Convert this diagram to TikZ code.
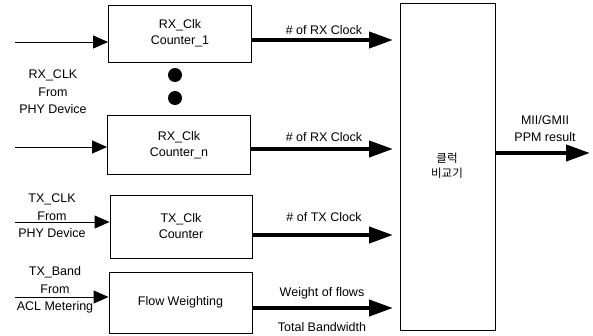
\documentclass[tikz,border=0pt]{standalone}
\usepackage{fontspec}
\setmainfont{Liberation Sans}
\newfontfamily\kr{Noto Sans CJK KR}
\usetikzlibrary{arrows.meta}
\begin{document}
\begin{tikzpicture}[x=1pt,y=-1pt,
  box/.style={draw,line width=0.9pt,inner sep=0pt,align=center,font=\fontsize{12.5}{16}\selectfont},
  lbl/.style={inner sep=0pt,align=center,font=\fontsize{12.5}{17.5}\selectfont},
  inarrow/.style={line width=0.9pt,-{Triangle[length=15pt,width=13pt]}},
  outarrow/.style={line width=4pt,-{Triangle[length=24pt,width=16pt]}}]
\useasboundingbox (0,0) rectangle (593,335);
% boxes
\node[box,minimum width=143pt,minimum height=57pt] (c1) at (180,33.5) {RX\_Clk\\Counter\_1};
\node[box,minimum width=143pt,minimum height=59pt] (cn) at (179,145) {RX\_Clk\\Counter\_n};
\node[box,minimum width=142pt,minimum height=63pt] (tx) at (181,226.5) {TX\_Clk\\Counter};
\node[box,minimum width=143pt,minimum height=61pt] (fw) at (180.5,302.5) {Flow Weighting};
\node[box,minimum width=95pt,minimum height=327pt] (cmp) at (447.5,166.5) {};
\node[inner sep=0pt,align=center,font=\kr\fontsize{11.5}{15.5}\selectfont] (cmpt) at (447,165.5) {클럭\\비교기};
% dots
\fill (175,75) circle (7pt) coordinate (d1);
\fill (175,98) circle (7pt) coordinate (d2);
% left labels
\node[lbl] (l1) at (53,92) {RX\_CLK\\From\\PHY Device};
\node[lbl] (l2) at (52,216) {TX\_CLK\\From\\PHY Device};
\node[lbl] (l3) at (55,290) {TX\_Band\\From\\ACL Metering};
% input arrows
\coordinate (i1) at (15,42);
\coordinate (i2) at (15,147);
\coordinate (i3) at (15,222);
\coordinate (i4) at (15,297);
\draw[inarrow] (i1) -- (i1 -| c1.west);
\draw[inarrow] (i2) -- (i2 -| cn.west);
\draw[inarrow] (i3) -- (i3 -| tx.west);
\draw[inarrow] (i4) -- (i4 -| fw.west);
% output arrows
\coordinate (o1) at (393,40);
\coordinate (o2) at (393,149);
\coordinate (o3) at (393,235);
\coordinate (o4) at (393,308);
\draw[outarrow] (o1 -| c1.east) -- (o1);
\draw[outarrow] (o2 -| cn.east) -- (o2);
\draw[outarrow] (o3 -| tx.east) -- (o3);
\draw[outarrow] (o4 -| fw.east) -- (o4);
\node[lbl] (t1) at (324,30) {\# of RX Clock};
\node[lbl] (t2) at (324,137) {\# of RX Clock};
\node[lbl] (t3) at (324,217) {\# of TX Clock};
\node[lbl] (t4) at (322,293) {Weight of flows};
\node[lbl] (t5) at (322,327) {Total Bandwidth};
% result
\coordinate (r) at (590,153);
\draw[outarrow] (r -| cmp.east) -- (r);
\node[lbl,font=\fontsize{12.5}{16.5}\selectfont] (rt) at (545,128.5) {MII/GMII\\PPM result};
\end{tikzpicture}
\end{document}
